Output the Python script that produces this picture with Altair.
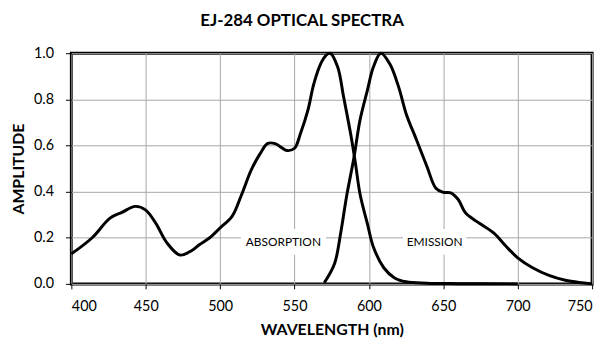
import altair as alt
import pandas as pd

# Absorption spectrum (wavelength nm, amplitude)
abs_nm = [400, 414, 426, 434, 443, 450, 457, 464, 473, 481, 486, 493, 500, 508, 514, 521,
          527, 532, 537, 545, 550, 554, 559, 563, 568, 571, 574, 579, 583, 588, 591, 594,
          599, 603, 610, 617, 625, 639, 660, 700]
abs_amp = [0.13, 0.20, 0.285, 0.31, 0.336, 0.32, 0.26, 0.18, 0.125, 0.145, 0.17, 0.20, 0.243,
           0.293, 0.38, 0.495, 0.566, 0.609, 0.608, 0.578, 0.588, 0.652, 0.753, 0.868, 0.96,
           0.99, 1.0, 0.94, 0.81, 0.64, 0.52, 0.39, 0.26, 0.16, 0.07, 0.027, 0.009, 0.003,
           0.001, 0.0]

# Emission spectrum
emi_nm = [570, 577, 581, 585, 590, 594, 599, 603, 608, 614, 620, 625, 632, 639, 645, 650,
          655, 660, 665, 674, 684, 692, 700, 710, 721, 732, 743, 750]
emi_amp = [0.005, 0.09, 0.22, 0.38, 0.55, 0.71, 0.84, 0.94, 1.0, 0.954, 0.853, 0.738, 0.624,
           0.509, 0.415, 0.397, 0.395, 0.366, 0.307, 0.264, 0.22, 0.164, 0.113, 0.07, 0.037,
           0.016, 0.005, 0.0]

label_text = ["ABSORPTION", "EMISSION"]
label_nm = [542.5, 644.2]
label_amp = [0.182, 0.182]

x_ticks = [400, 450, 500, 550, 600, 650, 700, 750]
y_ticks = [0.0, 0.2, 0.4, 0.6, 0.8, 1.0]

FONT = "Lato"

df = pd.concat([
    pd.DataFrame({"nm": abs_nm, "amp": abs_amp, "series": "Absorption"}),
    pd.DataFrame({"nm": emi_nm, "amp": emi_amp, "series": "Emission"}),
])
labels = pd.DataFrame({"text": label_text, "nm": label_nm, "amp": label_amp})

xscale = alt.Scale(domain=[400, 750], nice=False, zero=False)
yscale = alt.Scale(domain=[0, 1], nice=False)

xaxis = alt.Axis(values=x_ticks, title="WAVELENGTH (nm)", format="d",
                 grid=True, gridColor="#a6a6a6", gridWidth=1,
                 domain=False, tickColor="black", tickSize=5, tickWidth=1,
                 labelFont=FONT, labelFontSize=14.5, labelColor="black", labelPadding=11,
                 titleFont=FONT, titleFontSize=16, titleFontWeight="bold", titleColor="black",
                 titlePadding=9)
yaxis = alt.Axis(values=y_ticks, title="AMPLITUDE", format=".1f",
                 grid=True, gridColor="#a6a6a6", gridWidth=1,
                 domain=False, tickColor="black", tickSize=6, tickWidth=1,
                 labelFont=FONT, labelFontSize=14.5, labelColor="black", labelPadding=12,
                 titleFont=FONT, titleFontSize=16, titleFontWeight="bold", titleColor="black",
                 titlePadding=7)

lines = alt.Chart(df).mark_line(color="black", strokeWidth=3, interpolate="catmull-rom").encode(
    x=alt.X("nm:Q", scale=xscale, axis=xaxis),
    y=alt.Y("amp:Q", scale=yscale, axis=yaxis),
    detail="series:N",
)

box_abs = alt.Chart(labels.iloc[[0]]).mark_rect(color="white", width=86, height=26).encode(
    x=alt.X("nm:Q", scale=xscale), y=alt.Y("amp:Q", scale=yscale))
box_emi = alt.Chart(labels.iloc[[1]]).mark_rect(color="white", width=64, height=26).encode(
    x=alt.X("nm:Q", scale=xscale), y=alt.Y("amp:Q", scale=yscale))

texts = alt.Chart(labels).mark_text(font=FONT, fontSize=12, color="black",
                                    align="center", baseline="middle").encode(
    x=alt.X("nm:Q", scale=xscale), y=alt.Y("amp:Q", scale=yscale), text="text:N")

chart = alt.layer(box_abs, box_emi, lines, texts).properties(
    width=526, height=233,
    padding={"left": 64, "top": 44, "right": 10, "bottom": 55},
    autosize=alt.AutoSizeParams(type="none"),
    title=alt.TitleParams("EJ-284 OPTICAL SPECTRA", font=FONT, fontSize=17, fontWeight="bold",
                          color="black", anchor="middle", dx=-30, offset=16),
).configure_view(stroke="black", strokeWidth=3)

chart.save("out.html", embed_options={"renderer": "svg", "actions": False})
